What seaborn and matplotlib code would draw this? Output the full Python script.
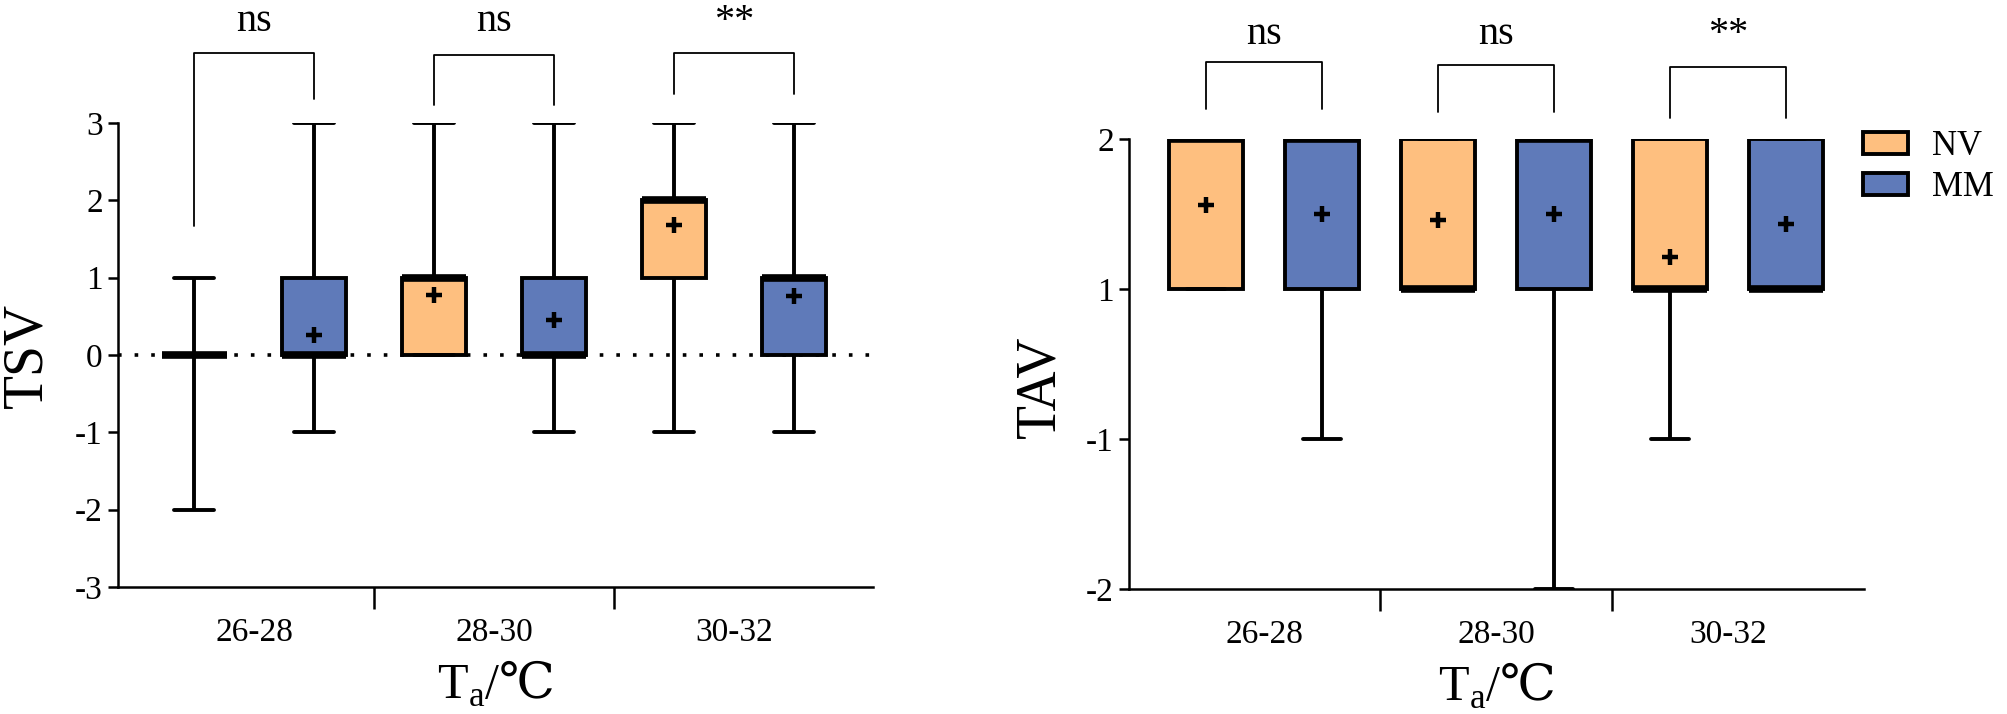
import numpy as np
import pandas as pd
import matplotlib
matplotlib.use('Agg')
import matplotlib.pyplot as plt
from matplotlib.patches import Patch
import seaborn as sns

# categories
ranges = ['26-28', '28-30', '30-32']
groups = ['NV', 'MM']
colors = ['#FEBF7F', '#5F7AB9']

# box summaries: min, q1, median, q3, max
tsv_nv = [[-2, 0, 0, 0, 1], [0, 0, 1, 1, 3], [-1, 1, 2, 2, 3]]
tsv_mm = [[-1, 0, 0, 1, 3], [-1, 0, 0, 1, 3], [-1, 0, 1, 1, 3]]
tsv_mean_nv = [np.nan, 0.77, 1.68]   # first mean hidden under the flat box
tsv_mean_mm = [0.26, 0.45, 0.76]

tav_nv = [[1, 1, 2, 2, 2], [1, 1, 1, 2, 2], [-1, 1, 1, 2, 2]]
tav_mm = [[-1, 1, 2, 2, 2], [-2, 1, 2, 2, 2], [1, 1, 1, 2, 2]]
tav_mean_nv = [1.56, 1.46, 1.21]
tav_mean_mm = [1.50, 1.50, 1.43]

# TAV scale has no 0, the four levels are spaced evenly
tav_levels = [-2, -1, 1, 2]
tav_ticklabels = ['-2', '-1', '1', '2']

tsv_labels = ['ns', 'ns', '**']
tav_labels = ['ns', 'ns', '**']


def tav_pos(v):
    return np.interp(v, tav_levels, np.arange(len(tav_levels)))


def long_df(nv, mm, f=lambda v: v):
    # 5 points per box -> np.percentile gives exactly min/q1/med/q3/max
    rows = []
    for g, summ in zip(groups, [nv, mm]):
        for r, vals in zip(ranges, summ):
            for v in vals:
                rows.append((r, g, f(v)))
    return pd.DataFrame(rows, columns=['range', 'group', 'value'])


def draw_boxes(ax, df, mean_nv, mean_mm, gap):
    sns.boxplot(data=df, x='range', y='value', hue='group', order=ranges,
                hue_order=groups, palette=colors, saturation=1, width=1.0, gap=gap,
                whis=(0, 100), showfliers=False, linewidth=2.8,
                linecolor='black', legend=False, capwidths=0.165,
                medianprops=dict(linewidth=5.5, color='black', solid_capstyle='butt'),
                ax=ax)
    for k, m in enumerate([mean_nv, mean_mm]):
        xs = np.arange(len(ranges)) + (k - 0.5) * 0.5
        ax.plot(xs, m, ls='none', marker='+', ms=12, mew=3.2, color='black', zorder=6)


def brackets(ax, tops, legs_l, legs_r, labels, ytext):
    for i in range(len(ranges)):
        x1, x2 = i - 0.25, i + 0.25
        ax.plot([x1, x1, x2, x2], [legs_l[i], tops[i], tops[i], legs_r[i]],
                color='black', lw=1.3, clip_on=False)
        ax.text(i, ytext, labels[i], ha='center', va='baseline', fontsize=29,
                clip_on=False)


def style_axes(ax):
    sns.despine(ax=ax)
    for s in ['left', 'bottom']:
        ax.spines[s].set_linewidth(1.8)
    ax.set_xticks(range(len(ranges)))
    ax.set_xticklabels(ranges)
    ax.set_xticks([0.5, 1.5], minor=True)
    ax.tick_params(axis='x', which='major', length=0, pad=22, labelsize=24)
    ax.tick_params(axis='x', which='minor', length=16, width=1.8)
    ax.tick_params(axis='y', length=7, width=1.8, labelsize=24, pad=4)
    ax.set_xlabel(r'T$_{\mathrm{a}}$/$\mathsf{℃}$', fontsize=36, labelpad=8)


sns.set_theme(style='ticks', rc={'axes.edgecolor': 'black', 'xtick.color': 'black',
                                 'ytick.color': 'black', 'text.color': 'black',
                                 'axes.labelcolor': 'black'})
plt.rcParams['font.family'] = ['Liberation Serif', 'DejaVu Serif']
plt.rcParams['mathtext.fontset'] = 'custom'
plt.rcParams['mathtext.rm'] = 'Liberation Serif'
plt.rcParams['mathtext.sf'] = 'DejaVu Serif'
plt.rcParams['axes.unicode_minus'] = False

fig = plt.figure(figsize=(20.08, 7.14), dpi=100)
ax1 = fig.add_axes([0.0588, 0.1779, 0.376, 0.6499])
ax2 = fig.add_axes([0.5623, 0.1751, 0.366, 0.6303])

# left: TSV
ax1.axhline(0, color='black', lw=2.6, ls=(0, (1, 3.6)), zorder=0.5)
draw_boxes(ax1, long_df(tsv_nv, tsv_mm), tsv_mean_nv, tsv_mean_mm, gap=0.46)
ax1.set_ylim(-3, 3)
ax1.set_yticks(range(-3, 4))
ax1.set_xlim(-0.567, 2.58)
style_axes(ax1)
ax1.set_ylabel('TSV', fontsize=40)
ax1.yaxis.set_label_coords(-0.085, 0.5)
brackets(ax1, [3.905, 3.88, 3.905], [1.668, 3.23, 3.375], [3.31, 3.23, 3.375],
         tsv_labels, 4.19)

# right: TAV
draw_boxes(ax2, long_df(tav_nv, tav_mm, tav_pos), tav_pos(tav_mean_nv),
           tav_pos(tav_mean_mm), gap=0.36)
ax2.set_ylim(0, 3)
ax2.set_yticks(range(len(tav_levels)))
ax2.set_yticklabels(tav_ticklabels)
ax2.set_xlim(-0.582, 2.586)
style_axes(ax2)
ax2.set_ylabel('TAV', fontsize=40)
ax2.yaxis.set_label_coords(-0.085, 0.45)
brackets(ax2, [3.51, 3.49, 3.48], [3.2, 3.18, 3.14], [3.2, 3.18, 3.14],
         tav_labels, 3.636)

handles = [Patch(facecolor=c, edgecolor='black', linewidth=2.8) for c in colors]
fig.legend(handles, groups, loc='upper left', bbox_to_anchor=(0.912, 0.862),
           frameon=False, fontsize=25, handlelength=1.3, handleheight=0.6,
           labelspacing=0.25, handletextpad=0.7)

fig.savefig('out.png', dpi=100)
